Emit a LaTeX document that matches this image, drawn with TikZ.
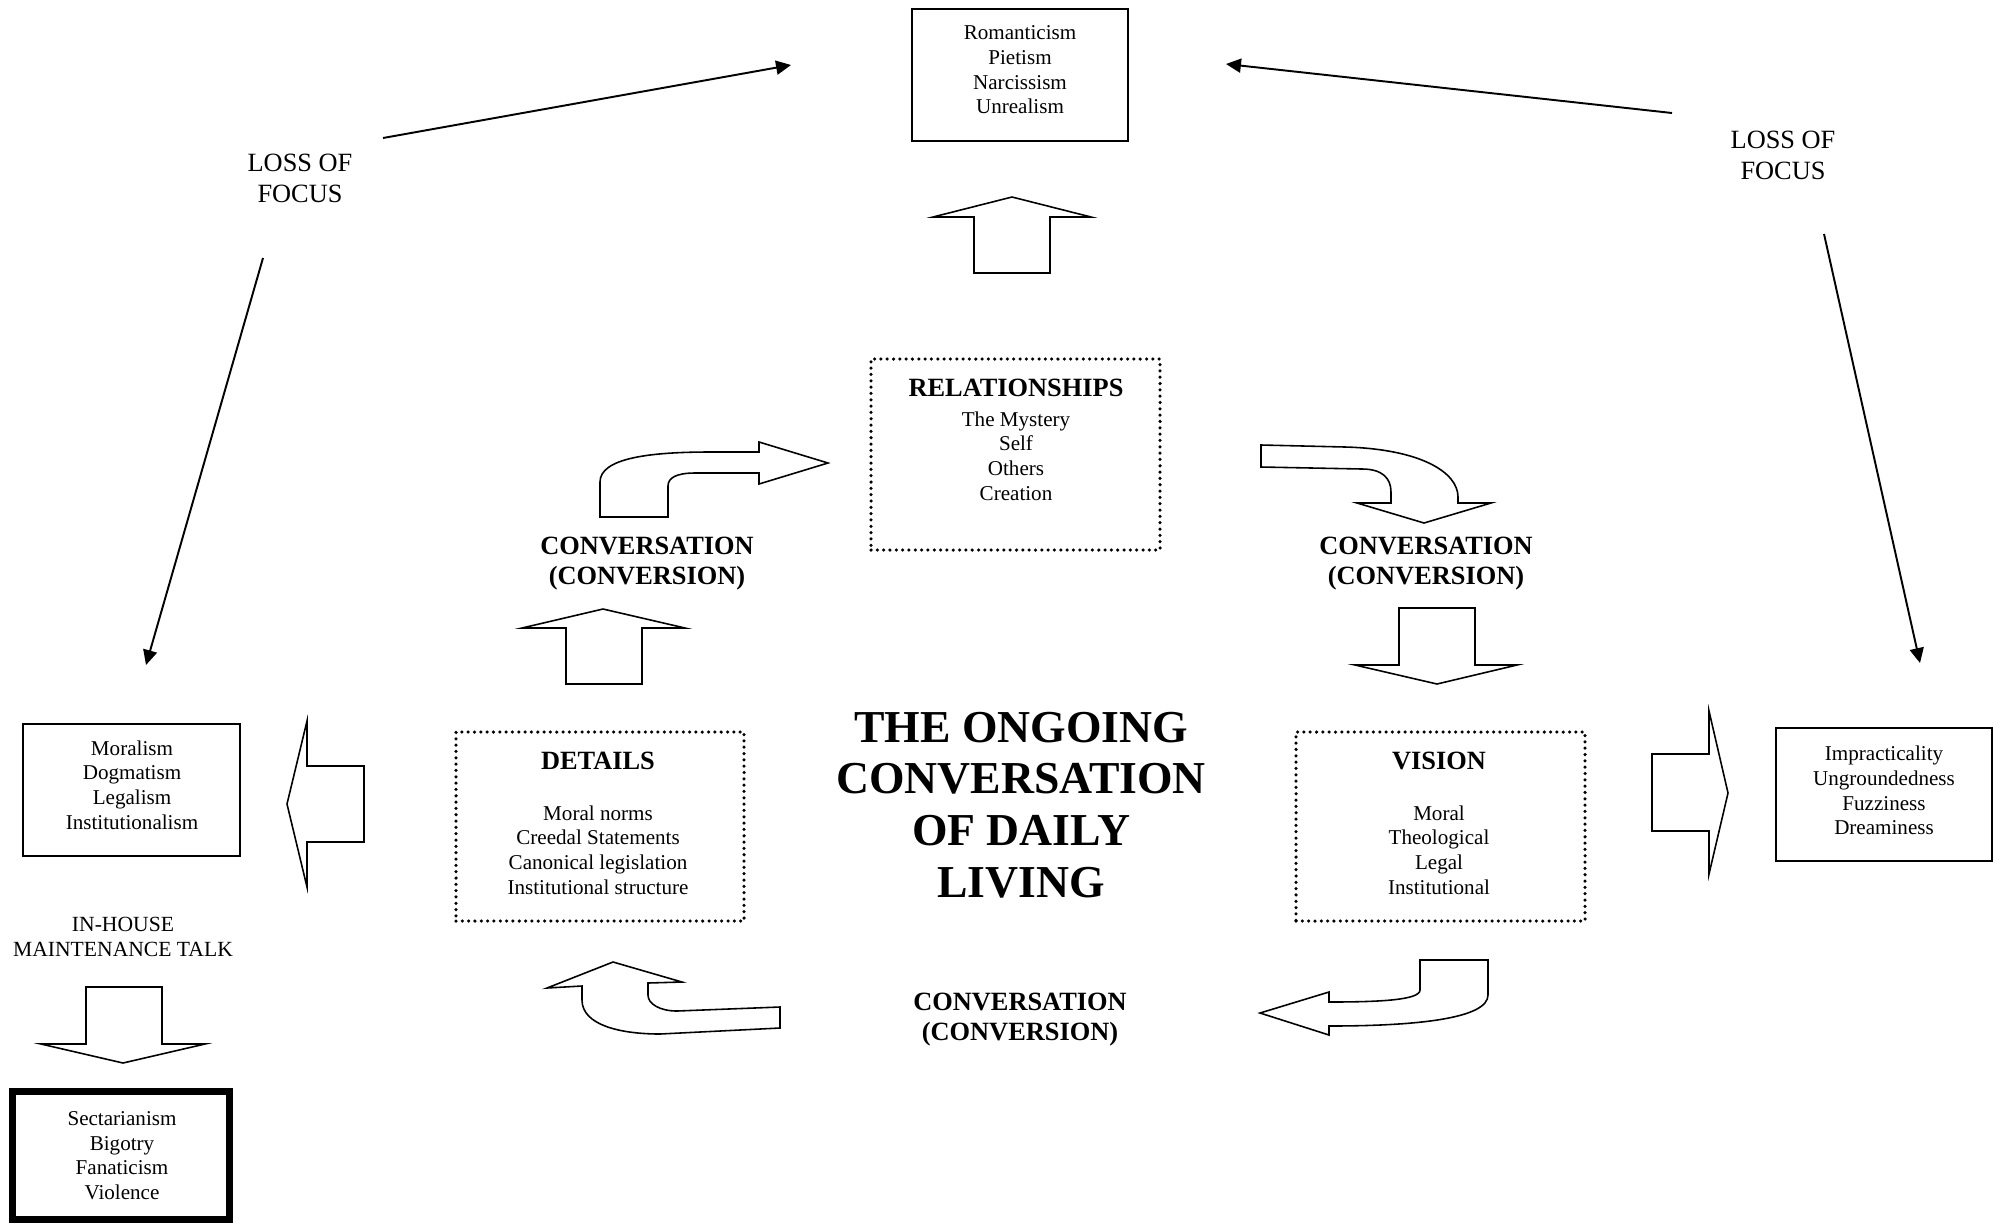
\documentclass[tikz,border=0pt]{standalone}
\usepackage{fontspec}
\setmainfont{Liberation Serif}
\usepackage{tikz}
\usetikzlibrary{arrows.meta}

\begin{document}
\begin{tikzpicture}[>={Triangle[length=8.5pt,width=8pt]},line join=miter,
  framebox/.style={draw,line width=0.8pt,inner sep=0pt},
  dotframe/.style={draw,line width=2pt,dash pattern=on 0pt off 3.6pt,line cap=round,inner sep=0pt},
  blockarrow/.style={draw,line width=0.9pt,fill=white},
  listtext/.style={align=center,inner sep=0pt,font=\fontsize{12}{14}\selectfont},
  headtext/.style={inner sep=0pt,font=\bfseries\fontsize{15}{17}\selectfont},
  convtext/.style={align=center,inner sep=0pt,font=\bfseries\fontsize{15}{17}\selectfont},
  losstext/.style={align=center,inner sep=0pt,font=\fontsize{15}{17.6}\selectfont},
  focusline/.style={line width=1.1pt,->}]
  \useasboundingbox (0,0) rectangle (40.04,-24.44);
  \coordinate (LA0) at (7.66,-2.76);
  \coordinate (LA1) at (15.82,-1.30);
  \coordinate (LB0) at (5.26,-5.16);
  \coordinate (LB1) at (2.92,-13.30);
  \coordinate (RA0) at (33.44,-2.26);
  \coordinate (RA1) at (24.52,-1.28);
  \coordinate (RB0) at (36.48,-4.68);
  \coordinate (RB1) at (38.40,-13.26);
  \node[framebox,minimum width=4.32cm,minimum height=2.64cm] (rom) at (20.40,-1.50) {};
  \node[dotframe,minimum width=5.78cm,minimum height=3.82cm] (rel) at (20.31,-9.09) {};
  \node[dotframe,minimum width=5.76cm,minimum height=3.78cm] (det) at (12.00,-16.53) {};
  \node[dotframe,minimum width=5.78cm,minimum height=3.78cm] (vis) at (28.81,-16.53) {};
  \node[framebox,minimum width=4.34cm,minimum height=2.64cm] (mor) at (2.63,-15.80) {};
  \node[framebox,line width=4pt,minimum width=4.34cm,minimum height=2.55cm] (sec) at (2.42,-23.105) {};
  \node[framebox,minimum width=4.32cm,minimum height=2.66cm] (imp) at (37.68,-15.89) {};
  \draw[focusline] (LA0) -- (LA1);
  \draw[focusline] (LB0) -- (LB1);
  \draw[focusline] (RA0) -- (RA1);
  \draw[focusline] (RB0) -- (RB1);
  \draw[blockarrow] (19.48,-5.46) -- (19.48,-4.34) -- (18.66,-4.34) -- (20.24,-3.94) -- (21.82,-4.34) -- (21.00,-4.34) -- (21.00,-5.46) -- cycle;
  \draw[blockarrow] (11.32,-13.68) -- (11.32,-12.56) -- (10.44,-12.56) -- (12.06,-12.18) -- (13.70,-12.56) -- (12.84,-12.56) -- (12.84,-13.68) -- cycle;
  \draw[blockarrow] (27.98,-12.16) -- (27.98,-13.30) -- (27.10,-13.30) -- (28.74,-13.68) -- (30.34,-13.30) -- (29.50,-13.30) -- (29.50,-12.16) -- cycle;
  \draw[blockarrow] (7.28,-15.32) -- (6.14,-15.32) -- (6.14,-14.42) -- (5.74,-16.08) -- (6.14,-17.74) -- (6.14,-16.84) -- (7.28,-16.84) -- cycle;
  \draw[blockarrow] (33.04,-15.08) -- (34.18,-15.08) -- (34.18,-14.22) -- (34.56,-15.86) -- (34.18,-17.48) -- (34.18,-16.62) -- (33.04,-16.62) -- cycle;
  \draw[blockarrow] (1.72,-19.74) -- (1.72,-20.88) -- (0.82,-20.88) -- (2.46,-21.26) -- (4.10,-20.88) -- (3.24,-20.88) -- (3.24,-19.74) -- cycle;
  \draw[blockarrow] (12.00,-10.34) -- (12.00,-9.64) .. controls (12.00,-9.16) and (13.00,-9.04) .. (14.20,-9.04) -- (15.18,-9.04) -- (15.18,-8.84) -- (16.56,-9.26) -- (15.18,-9.68) -- (15.18,-9.46) -- (13.90,-9.46) .. controls (13.52,-9.46) and (13.36,-9.56) .. (13.36,-9.72) -- (13.36,-10.34) -- cycle;
  \draw[blockarrow] (25.22,-8.90) -- (26.90,-8.94) .. controls (28.40,-8.98) and (29.16,-9.44) .. (29.16,-9.94) -- (29.16,-10.06) -- (29.82,-10.06) -- (28.48,-10.46) -- (27.14,-10.06) -- (27.82,-10.06) -- (27.82,-9.84) .. controls (27.82,-9.56) and (27.64,-9.38) .. (27.24,-9.38) -- (25.22,-9.34) -- cycle;
  \draw[blockarrow] (28.40,-19.20) -- (29.76,-19.20) -- (29.76,-19.90) .. controls (29.76,-20.36) and (28.40,-20.52) .. (26.58,-20.52) -- (26.58,-20.70) -- (25.20,-20.26) -- (26.58,-19.84) -- (26.58,-20.04) .. controls (27.60,-20.04) and (28.40,-20.00) .. (28.40,-19.80) -- cycle;
  \draw[blockarrow] (11.64,-19.72) -- (11.64,-20.00) .. controls (11.64,-20.50) and (12.40,-20.68) .. (13.20,-20.68) -- (15.60,-20.56) -- (15.60,-20.14) -- (13.54,-20.22) .. controls (13.20,-20.22) and (12.96,-20.08) .. (12.96,-19.90) -- (12.96,-19.66) -- (13.64,-19.64) -- (12.26,-19.24) -- (10.94,-19.76) -- cycle;
  \node[listtext] (romT) at (20.40,-1.40) {Romanticism\\Pietism\\Narcissism\\Unrealism};
  \node[headtext] (relH) at (20.32,-7.76) {RELATIONSHIPS};
  \node[listtext] (relT) at (20.32,-9.12) {The Mystery\\Self\\Others\\Creation};
  \node[headtext] (detH) at (11.96,-15.22) {DETAILS};
  \node[listtext] (detT) at (11.96,-17.00) {Moral norms\\Creedal Statements\\Canonical legislation\\Institutional structure};
  \node[headtext] (visH) at (28.78,-15.22) {VISION};
  \node[listtext] (visT) at (28.78,-17.00) {Moral\\Theological\\Legal\\Institutional};
  \node[listtext] (morT) at (2.64,-15.70) {Moralism\\Dogmatism\\Legalism\\Institutionalism};
  \node[listtext] (secT) at (2.44,-23.11) {Sectarianism\\Bigotry\\Fanaticism\\Violence};
  \node[listtext] (impT) at (37.68,-15.81) {Impracticality\\Ungroundedness\\Fuzziness\\Dreaminess};
  \node[listtext,font=\fontsize{12.3}{14.2}\selectfont] (house) at (2.46,-18.73) {IN-HOUSE\\MAINTENANCE TALK};
  \node[losstext] (lossL) at (6.00,-3.57) {LOSS OF\\FOCUS};
  \node[losstext] (lossR) at (35.66,-3.10) {LOSS OF\\FOCUS};
  \node[align=center,font=\bfseries\fontsize{26}{29.5}\selectfont] (title) at (20.42,-16.10) {THE ONGOING\\CONVERSATION\\OF DAILY\\LIVING};
  \node[convtext] (convL) at (12.94,-11.27) {CONVERSATION\\(CONVERSION)};
  \node[convtext] (convR) at (28.52,-11.27) {CONVERSATION\\(CONVERSION)};
  \node[convtext] (convB) at (20.40,-20.39) {CONVERSATION\\(CONVERSION)};
\end{tikzpicture}
\end{document}
